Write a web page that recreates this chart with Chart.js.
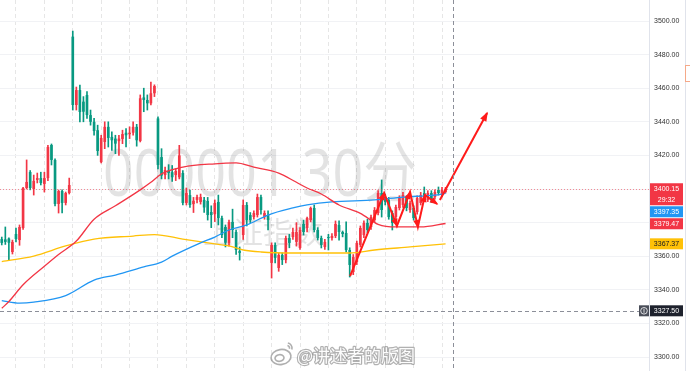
<!DOCTYPE html>
<html>
<head>
<meta charset="utf-8">
<script src="https://cdn.jsdelivr.net/npm/chart.js@4.4.1/dist/chart.umd.min.js"></script>
<style>
  html, body { margin: 0; padding: 0; background: #fff; }
  #c { display: block; }
</style>
</head>
<body>
<canvas id="c" width="690" height="371" style="width:690px;height:371px"></canvas>
<script>
// --- Candles (30 min bars) ---
const opens = [3370.2,3370,3370.5,3362.5,3373.2,3369.6,3376.8,3400.6,3410.1,3400,3405.4,3406.5,3403,3406.5,3426.2,3417.3,3391.1,3398.8,3391.7,3397.6,
  3490.7,3450,3458.9,3452,3456,3444,3440,3435,3416,3428,3437,3431,3430,3428.5,3429.8,3433.5,3432.6,3433.5,3437,3428.6,
  3454.5,3453,3451,3457,3442,3419,3408.3,3411,3410,3408.3,3407,3409.5,3391.7,3396.4,3391,3393.5,3392.3,3393.5,3392.9,3386.3,
  3385,3392.3,3382.7,3377.4,3367.9,3380.4,3374.4,3363,3372.6,3390.5,3384.5,3383.3,3384.5,3395.2,3383.3,3384.5,3356,3366.7,3353,3360.7,
  3357.7,3370.8,3371.4,3368.5,3364.9,3379.2,3376.8,3381.5,3388.7,3375.6,3370.8,3365.5,3371.4,3370.8,3372,3378.6,3374.4,3373.8,3363.7,3350.6,
  3356.5,3366.7,3372.6,3379.8,3377.4,3381.5,3385.7,3397.6,3395.2,3393.5,3385.7,3383.3,3388.7,3390.5,3394.6,3387.5,3388.7,3386.3,3391.7,3397.6,
  3393.5,3397.6,3395.2,3399.4,3396.4,3398.2];
const highs = [3371.4,3377.4,3371,3369.6,3376.8,3378.6,3401,3417.3,3411,3408.3,3409.5,3410,3410,3426,3426.8,3418,3399.4,3399.5,3398.2,3406.5,
  3494,3460.7,3461.9,3455,3458,3447,3442,3438,3432,3440,3440,3434,3432,3432,3435,3436,3437,3440,3438.5,3456,
  3460,3456,3463.7,3462,3443,3424,3413,3414.5,3414,3412,3426,3411,3400.6,3399.4,3395,3396.4,3397,3395,3395,3390,
  3393.5,3396.4,3383.9,3378.6,3381.5,3388,3375.6,3365.5,3393.5,3392,3386,3387,3397,3396.4,3387,3387,3368,3368,3362,3362,
  3372,3373,3376.8,3380,3377,3381.5,3383.3,3389.3,3390.5,3377,3372,3370,3373,3373.5,3381,3381,3375,3380.4,3365,3361,
  3369,3378,3381,3382,3384.5,3389,3399,3405.4,3397,3395,3387,3390.5,3396,3398,3396,3393,3390,3396,3398,3401.2,
  3399,3399,3399.5,3401.2,3401,3401];
const lows = [3366.7,3367,3357.7,3361.3,3368.5,3366.5,3376,3400,3399.5,3396.4,3403.6,3402.4,3398.2,3405,3414.3,3390,3385.7,3385.7,3390.5,3397,
  3447,3447,3440,3440,3442,3438,3432,3420,3415.5,3424,3425,3423,3421,3420,3427,3425,3430,3432,3425.5,3428,
  3446,3447,3450,3455,3412,3406,3406,3406,3404.5,3405,3406,3390.5,3390.5,3389,3386,3391.7,3391,3386,3381.5,3377,
  3380.6,3378.6,3371,3365.5,3366,3371,3361,3357.7,3370,3378,3380,3382,3383.3,3385,3382,3375.6,3347,3356,3351,3355,
  3356,3365,3370,3366,3364,3372.6,3374.4,3380.4,3374.4,3369.6,3364.9,3364,3363.7,3369.5,3371,3369.6,3371.5,3362.5,3347.6,3349,
  3355,3365.5,3371,3374,3376,3380,3384.5,3383.3,3390.5,3382,3375.6,3382,3387.5,3389,3387,3386,3381.5,3385,3390.5,3393.5,
  3392.5,3392,3394,3396.4,3395.5,3397.6];
const closes = [3367.9,3368.5,3368,3368.5,3370.2,3377.4,3400.6,3404.2,3400.6,3404.8,3406.5,3403.6,3406.5,3425,3417.3,3391.1,3398.8,3391.7,3397.6,3402.4,
  3450,3458.9,3445.8,3446,3444,3440,3434.5,3422.6,3430.4,3437,3430.4,3429,3427,3430,3432.7,3432,3433.5,3437,3429,3454,
  3453,3451,3457,3461.3,3414.3,3408,3411.3,3409.5,3407,3410.7,3420,3391.7,3397.6,3390.5,3393,3395.2,3395.2,3389,3384.5,3384.5,
  3391.7,3382.7,3372.6,3368,3380.4,3375.6,3363.7,3362,3390.5,3381.5,3381.5,3385.7,3395.2,3387.5,3385.7,3381.5,3366.7,3359,3360.7,3357.7,
  3370.8,3367.9,3374.4,3374.4,3375.6,3374.4,3382.7,3388.7,3375.6,3370.8,3366.7,3368.5,3370.8,3372,3379.2,3374.4,3373.2,3363.7,3354.8,3359.5,
  3367.9,3376.8,3379.8,3375.6,3383.3,3387.5,3397.6,3387.5,3392.3,3383.3,3379.8,3389.3,3394.6,3396.4,3388.7,3391.7,3382.7,3394.6,3396.4,3394.6,
  3397.6,3393.5,3398.2,3397.6,3399.4,3400.15];

// --- Moving averages (bar index, value) ---
const maRedIdx = [0, 2, 6, 12, 16, 21, 26, 32, 39, 42, 45, 51, 60, 66, 71, 78, 83, 86, 90, 95, 101, 106, 111, 118, 125];
const maRedVal = [3329, 3333, 3343, 3354, 3361, 3369, 3382, 3390, 3399.5, 3404, 3409, 3413, 3415, 3415.5, 3413, 3409.5, 3404, 3400.6, 3397, 3390.5, 3385.5, 3379, 3377.4, 3377.4, 3379.47];
const maBlueIdx = [0, 5, 9, 18, 26, 32, 40, 45, 48, 56, 60, 64, 69, 75, 82, 86, 93, 105, 113, 122, 125];
const maBlueVal = [3333.6, 3332.1, 3332.7, 3336.6, 3345.8, 3348.8, 3353.6, 3356.5, 3360, 3367.9, 3371.4, 3375.6, 3378.6, 3384.5, 3388.7, 3390.5, 3392.3, 3393.5, 3395.2, 3396.4, 3397.35];
const maYellowIdx = [0, 9, 18, 26, 37, 43, 51, 60, 64, 68, 73, 82, 98, 105, 115, 125];
const maYellowVal = [3356.8, 3360.1, 3366.1, 3370.2, 3372, 3372.9, 3370.2, 3367.3, 3366.1, 3363.7, 3362.5, 3361.9, 3361.9, 3363.7, 3365.5, 3367.37];

// --- Hand-drawn arrows (bar index, price) ---
const zigzagIdx = [98.1, 107.7, 111.3, 115.0, 117.2, 119.2, 122.6];
const zigzagVal = [3348.2, 3397.6, 3378.0, 3398.2, 3377.4, 3396.4, 3391.1];
const bigArrowIdx = [123.4, 136.7];
const bigArrowVal = [3393.5, 3445.2];

// --- Axis / labels ---
const yTicks = [3300, 3320, 3340, 3360, 3380, 3400, 3420, 3440, 3460, 3480, 3500];
const gridIdx = [4, 12, 20, 28, 36, 44, 52, 60, 68, 76, 84, 92, 100, 108, 116, 124];
const lastPrice = 3400.15;
const countdown = '29:32';
const maTags = [
  { value: 3397.35, bg: '#2196f3', fg: '#fff' },
  { value: 3379.47, bg: '#f23645', fg: '#fff' },
  { value: 3367.37, bg: '#ffc107', fg: '#131722' }
];
const crossIdx = 127.1;
const crossPrice = 3327.5;
const watermarkTitle = '000001 30分';
const watermarkName = '上证指数';
const weiboText = '@讲述者的版图';

const UP = '#f23645';
const DOWN = '#089981';
const FONT = '"Liberation Sans", Arial, sans-serif';

const idx = opens.map((_, i) => i);
const candleColors = idx.map(i => closes[i] >= opens[i] ? UP : DOWN);
const pts = (xs, ys) => xs.map((x, i) => ({ x, y: ys[i] }));

function arrowHead(ctx, x0, y0, x1, y1, len, half) {
  const a = Math.atan2(y1 - y0, x1 - x0);
  const c = Math.cos(a), s = Math.sin(a);
  ctx.beginPath();
  ctx.moveTo(x1 + c * 1.5, y1 + s * 1.5);
  ctx.lineTo(x1 - len * c + half * s, y1 - len * s - half * c);
  ctx.lineTo(x1 - len * c - half * s, y1 - len * s + half * c);
  ctx.closePath();
  ctx.fill();
}

// --- Watermark, price lines, crosshair, arrowheads, tags ---
const overlay = {
  id: 'overlay',
  beforeDatasetsDraw(chart) {
    const { ctx, chartArea: a } = chart;
    ctx.save();
    ctx.beginPath();
    ctx.rect(a.left, a.top, a.right - a.left, a.bottom - a.top);
    ctx.clip();
    ctx.fillStyle = 'rgba(0,0,0,0.11)';
    ctx.textBaseline = 'alphabetic';
    ctx.font = '66px "Noto Sans", "Noto Sans CJK SC", sans-serif';
    const w = ctx.measureText(watermarkTitle).width;
    ctx.save();
    ctx.translate(103, 196);
    ctx.scale(314 / w, 1);
    ctx.fillText(watermarkTitle, 0, 0);
    ctx.restore();
    ctx.font = '30px "Noto Sans CJK SC", sans-serif';
    ctx.fillText(watermarkName, 203, 243);
    ctx.restore();
  },
  afterDatasetsDraw(chart) {
    const { ctx, chartArea: a, scales: { x, y } } = chart;
    ctx.save();
    ctx.beginPath();
    ctx.rect(a.left, a.top, a.right - a.left, a.bottom - a.top);
    ctx.clip();
    // last price dotted line
    const py = Math.round(y.getPixelForValue(lastPrice)) + 0.5;
    ctx.strokeStyle = 'rgba(242,54,69,0.55)';
    ctx.lineWidth = 1;
    ctx.setLineDash([1, 2]);
    ctx.beginPath(); ctx.moveTo(a.left, py); ctx.lineTo(a.right, py); ctx.stroke();
    // crosshair
    ctx.strokeStyle = '#8c8f99';
    ctx.setLineDash([4, 3]);
    const cx = Math.round(x.getPixelForValue(crossIdx)) + 0.5;
    const cy = Math.round(y.getPixelForValue(crossPrice)) + 0.5;
    ctx.beginPath(); ctx.moveTo(cx, a.top); ctx.lineTo(cx, a.bottom); ctx.stroke();
    ctx.beginPath(); ctx.moveTo(a.left, cy); ctx.lineTo(a.right, cy); ctx.stroke();
    ctx.setLineDash([]);
    // arrowheads
    ctx.fillStyle = '#ff1a1a';
    for (let k = 1; k < zigzagIdx.length; k++) {
      arrowHead(ctx,
        x.getPixelForValue(zigzagIdx[k - 1]), y.getPixelForValue(zigzagVal[k - 1]),
        x.getPixelForValue(zigzagIdx[k]), y.getPixelForValue(zigzagVal[k]), 7, 3.2);
    }
    arrowHead(ctx,
      x.getPixelForValue(bigArrowIdx[0]), y.getPixelForValue(bigArrowVal[0]),
      x.getPixelForValue(bigArrowIdx[1]), y.getPixelForValue(bigArrowVal[1]), 8, 3.5);
    ctx.restore();
  },
  afterDraw(chart) {
    const { ctx, chartArea: a, scales: { y } } = chart;
    const tx = a.right + 1, tw = 33, th = 11, tcx = tx + tw / 2;
    ctx.save();
    ctx.font = '7px ' + FONT;
    ctx.textAlign = 'center';
    ctx.textBaseline = 'middle';
    // last price tag with countdown
    let top = y.getPixelForValue(lastPrice) - th / 2;
    ctx.fillStyle = UP;
    ctx.fillRect(tx, top, tw, th * 2);
    ctx.fillStyle = '#fff';
    ctx.fillText(lastPrice.toFixed(2), tcx, top + th / 2 + 0.5);
    ctx.fillText(countdown, tcx, top + th * 1.5 + 0.5);
    let bottom = top + th * 2;
    // moving average tags, pushed down so they do not overlap
    maTags.forEach(t => {
      let tp = y.getPixelForValue(t.value) - th / 2;
      if (tp < bottom + 1) tp = bottom + 1;
      ctx.fillStyle = t.bg;
      ctx.fillRect(tx, tp, tw, th);
      ctx.fillStyle = t.fg;
      ctx.fillText(t.value.toFixed(2), tcx, tp + th / 2 + 0.5);
      bottom = tp + th;
    });
    // crosshair price tag + icon
    const cy = y.getPixelForValue(crossPrice) - th / 2;
    ctx.fillStyle = '#1e222d';
    ctx.fillRect(tx, cy, tw, th);
    ctx.fillStyle = '#fff';
    ctx.fillText(crossPrice.toFixed(2), tcx, cy + th / 2 + 0.5);
    ctx.fillStyle = '#4a4e59';
    ctx.fillRect(a.right - 10, cy, 10, th);
    ctx.strokeStyle = '#fff';
    ctx.lineWidth = 0.8;
    ctx.beginPath(); ctx.arc(a.right - 5, cy + th / 2, 3.3, 0, Math.PI * 2); ctx.stroke();
    ctx.beginPath();
    ctx.moveTo(a.right - 5, cy + th / 2 - 2); ctx.lineTo(a.right - 5, cy + th / 2 + 2);
    ctx.stroke();
    // right edge strip
    ctx.strokeStyle = '#e0e3eb';
    ctx.lineWidth = 1;
    ctx.beginPath(); ctx.moveTo(685.5, 0); ctx.lineTo(685.5, 371); ctx.stroke();
    ctx.strokeStyle = '#f5a989';
    ctx.strokeRect(685.5, 65.5, 10, 16);
    // weibo watermark
    ctx.lineWidth = 1.6;
    ctx.strokeStyle = 'rgba(110,110,110,0.55)';
    ctx.fillStyle = 'rgba(255,255,255,0.95)';
    ctx.beginPath(); ctx.ellipse(281, 357, 10, 7.5, -0.15, 0, Math.PI * 2); ctx.fill(); ctx.stroke();
    ctx.beginPath(); ctx.ellipse(279.5, 358, 4.5, 3.3, -0.15, 0, Math.PI * 2); ctx.stroke();
    ctx.beginPath(); ctx.arc(287, 348, 5, -1.4, 0.3); ctx.stroke();
    ctx.beginPath(); ctx.arc(287, 348, 2.5, -1.4, 0.3); ctx.stroke();
    ctx.font = '17px "Noto Sans CJK SC", sans-serif';
    ctx.textAlign = 'left';
    ctx.textBaseline = 'alphabetic';
    ctx.lineJoin = 'round';
    ctx.lineWidth = 2.4;
    ctx.strokeStyle = 'rgba(100,100,100,0.5)';
    ctx.strokeText(weiboText, 297, 362);
    ctx.fillStyle = '#fdfdfd';
    ctx.fillText(weiboText, 297, 362);
    ctx.restore();
  }
};

new Chart(document.getElementById('c'), {
  type: 'bar',
  data: {
    datasets: [
      { type: 'line', data: pts(zigzagIdx, zigzagVal), borderColor: '#ff1a1a', borderWidth: 2, pointRadius: 0, order: 0 },
      { type: 'line', data: pts(bigArrowIdx, bigArrowVal), borderColor: '#ff1a1a', borderWidth: 2, pointRadius: 0, order: 0 },
      { type: 'line', data: pts(maRedIdx, maRedVal), borderColor: '#f23645', borderWidth: 1.3, pointRadius: 0, cubicInterpolationMode: 'monotone', order: 1 },
      { type: 'line', data: pts(maBlueIdx, maBlueVal), borderColor: '#2196f3', borderWidth: 1.3, pointRadius: 0, cubicInterpolationMode: 'monotone', order: 1 },
      { type: 'line', data: pts(maYellowIdx, maYellowVal), borderColor: '#ffc107', borderWidth: 1.3, pointRadius: 0, cubicInterpolationMode: 'monotone', order: 1 },
      { type: 'bar', data: idx.map(i => ({ x: i, y: [opens[i], closes[i]] })), backgroundColor: candleColors,
        grouped: false, barPercentage: 0.75, categoryPercentage: 1, minBarLength: 1, borderWidth: 0, order: 2 },
      { type: 'bar', data: idx.map(i => ({ x: i, y: [lows[i], highs[i]] })), backgroundColor: candleColors,
        grouped: false, barThickness: 1, borderWidth: 0, order: 3 }
    ]
  },
  options: {
    responsive: false,
    animation: false,
    events: [],
    layout: { padding: 0 },
    plugins: { legend: { display: false }, tooltip: { enabled: false } },
    scales: {
      x: {
        type: 'linear', min: -0.5, max: 182.3, offset: false,
        afterBuildTicks: s => { s.ticks = gridIdx.map(v => ({ value: v })); },
        afterFit: s => { s.height = 0; s.paddingLeft = 0; s.paddingRight = 0; s.paddingTop = 0; s.paddingBottom = 0; },
        ticks: { display: false },
        grid: { color: '#e6e6e6', drawTicks: false, offset: false },
        border: { display: false, dash: [4, 3] }
      },
      y: {
        position: 'right', min: 3291.67, max: 3512.5,
        afterBuildTicks: s => { s.ticks = yTicks.map(v => ({ value: v })); },
        afterFit: s => { s.width = 41; s.paddingTop = 0; s.paddingBottom = 0; s.paddingLeft = 0; s.paddingRight = 0; },
        ticks: { callback: v => Number(v).toFixed(2), color: '#333', padding: 5, font: { size: 7, family: FONT } },
        grid: { color: '#f1f2f5', drawTicks: false },
        border: { color: '#e0e3eb' }
      }
    }
  },
  plugins: [overlay]
});
</script>
</body>
</html>
